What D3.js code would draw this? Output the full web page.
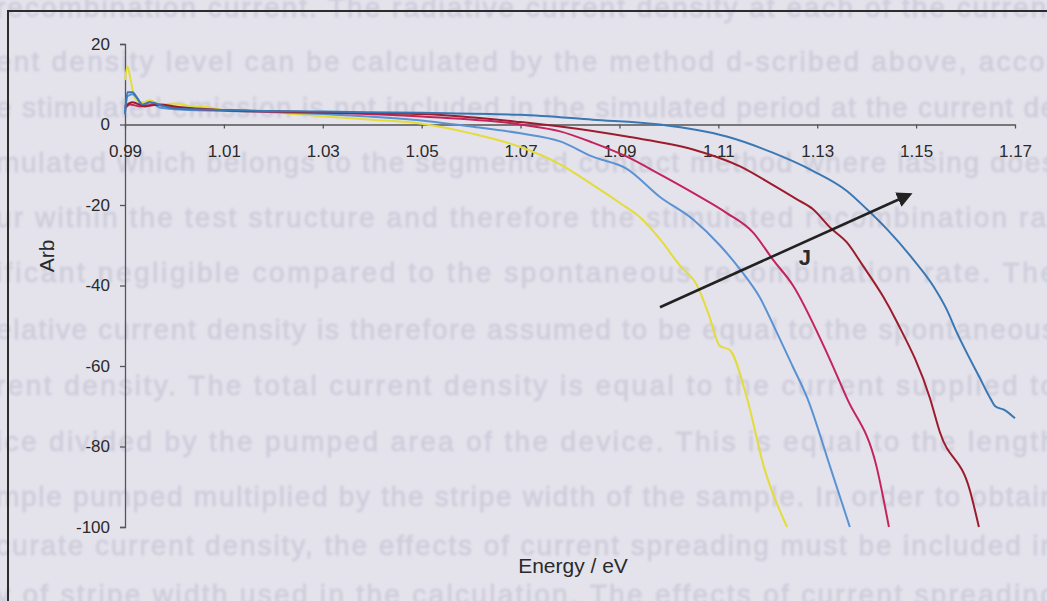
<!DOCTYPE html>
<html>
<head>
<meta charset="utf-8">
<script src="https://cdn.jsdelivr.net/npm/d3@7/dist/d3.min.js"></script>
<style>
  html, body { margin: 0; padding: 0; background: #e4e3ec; }
  svg { display: block; }
</style>
</head>
<body>
<svg id="chart" width="1047" height="601"></svg>
<script>
// Tick values for both axes
const energyTicks = [0.99, 1.01, 1.03, 1.05, 1.07, 1.09, 1.11, 1.13, 1.15, 1.17];
const arbTicks = [20, 0, -20, -40, -60, -80, -100];

// Each curve: photon energy (eV) and the signal (arb. units)
const yellowE = [0.9900, 0.9905, 0.9910, 0.9920, 0.9935, 0.9950, 0.9970, 1.0000, 1.0030, 1.0060, 1.0100, 1.0200, 1.0300, 1.0400, 1.0500, 1.0600, 1.0700, 1.0780, 1.0846, 1.0901, 1.0941, 1.0982, 1.1022, 1.1057, 1.1080, 1.1103, 1.1123, 1.1158, 1.1192, 1.1239];
const yellowV = [11, 14.5, 12, 6.5, 5.5, 6, 5, 5.2, 4.6, 4.4, 3.6, 3.0, 2.0, 1.2, 0.2, -2.2, -5.6, -9.9, -15, -19.5, -23, -28.5, -35, -40, -47, -55, -56, -68, -85, -100];

const lightBlueE = [0.9900, 0.9905, 0.9915, 0.9925, 0.9935, 0.9950, 0.9970, 1.0000, 1.0100, 1.0300, 1.0500, 1.0600, 1.0700, 1.0780, 1.0846, 1.0915, 1.0982, 1.1049, 1.1103, 1.1144, 1.1184, 1.1218, 1.1250, 1.1280, 1.1326, 1.1366];
const lightBlueV = [3, 7, 7.5, 6.5, 4.5, 5.5, 4.2, 3.8, 3.4, 2.6, 1, -0.5, -2.2, -4.2, -8, -11, -18, -23.6, -30, -36, -43, -51.6, -60, -68, -85, -100];

const magentaE = [0.9900, 0.9910, 0.9930, 0.9960, 1.0000, 1.0100, 1.0300, 1.0500, 1.0700, 1.0780, 1.0846, 1.0915, 1.0982, 1.1049, 1.1117, 1.1170, 1.1210, 1.1251, 1.1313, 1.1360, 1.1420, 1.1445];
const magentaV = [4, 5, 4.5, 5, 4.2, 3.5, 3.0, 2, 0, -1.7, -4.5, -8, -12.4, -17, -22, -26.8, -33.5, -40, -55, -68, -85, -100];

const darkRedE = [0.9900, 0.9915, 0.9940, 0.9970, 1.0000, 1.0100, 1.0300, 1.0500, 1.0700, 1.0780, 1.0915, 1.1049, 1.1144, 1.1210, 1.1259, 1.1291, 1.1326, 1.1360, 1.1392, 1.1433, 1.1461, 1.1528, 1.1548, 1.1609, 1.1627];
const darkRedV = [4.5, 5.5, 4.5, 5, 4.5, 3.6, 3.0, 2.6, 0.6, -0.5, -3, -6.2, -10.4, -15, -18.6, -21, -25.6, -29.3, -35, -42.7, -49, -68, -76.4, -91, -100];

const steelBlueE = [0.9900, 0.9905, 0.9915, 0.9925, 0.9935, 0.9950, 0.9980, 1.0000, 1.0100, 1.0300, 1.0500, 1.0700, 1.0846, 1.0982, 1.1117, 1.1210, 1.1291, 1.1360, 1.1400, 1.1441, 1.1494, 1.1534, 1.1562, 1.1582, 1.1629, 1.1650, 1.1660, 1.1680, 1.1700];
const steelBlueV = [2.5, 8, 8, 6.5, 5, 5.5, 4.5, 4, 3.6, 3.2, 2.9, 2.4, 1.2, 0, -3, -7, -11.5, -16.5, -21, -26, -33.5, -40, -46, -51.6, -63, -68, -70, -71, -73];

// Arrow showing increasing current density J (energy, value at tail and head)
const arrowFrom = [1.0982, -45.4];
const arrowTo = [1.1487, -17.4];
const arrowLabelAt = [1.1275, -33];

// Page text lying behind the chart
const pageLines = [
  "recombination current. The radiative current density at each of the current",
  "ent density  level can be calculated by the method d-scribed above, accor",
  "e stimulated emission is not included in the simulated period at the current de",
  "mulated which belongs to the segmented contact method where lasing does",
  "ur within the test structure and therefore the stimulated recombination rat",
  "ificant negligible  compared  to  the  spontaneous  recombination  rate.  The",
  "elative current density is therefore assumed to be equal to the spontaneous",
  "rent density. The total current density is equal to the current supplied to",
  "ice divided by the pumped area of the device. This is equal to the length",
  "mple pumped multiplied by the stripe width of the sample. In order to obtain",
  "curate current density, the effects of current spreading must be included in",
  "y of stripe width used in the calculation. The effects of current spreading"
];

const series = [
  { e: yellowE, v: yellowV, color: "#e3dc3a" },
  { e: lightBlueE, v: lightBlueV, color: "#5a92d4" },
  { e: magentaE, v: magentaV, color: "#c4245c" },
  { e: darkRedE, v: darkRedV, color: "#9c1c2c" },
  { e: steelBlueE, v: steelBlueV, color: "#3a78b4" }
];

const svg = d3.select("#chart");
const defs = svg.append("defs");
defs.append("filter").attr("id", "soft")
  .append("feGaussianBlur").attr("stdDeviation", 1.3);
defs.append("marker")
  .attr("id", "head")
  .attr("viewBox", "0 0 10 10")
  .attr("refX", 8).attr("refY", 5)
  .attr("markerWidth", 6).attr("markerHeight", 6)
  .attr("orient", "auto")
  .append("path").attr("d", "M0,0 L10,5 L0,10 z").attr("fill", "#222");

// Faint page text
const page = svg.append("g").attr("filter", "url(#soft)")
  .attr("font-family", "Liberation Sans, Arial, sans-serif")
  .attr("font-size", 28).attr("fill", "#cfcedb")
  .attr("stroke", "#cfcedb").attr("stroke-width", 0.8);
const rowY = [17, 71, 117, 172, 227, 282, 339, 395, 451, 506, 555, 604];
page.selectAll("text").data(pageLines).join("text")
  .attr("x", -4)
  .attr("y", (d, i) => rowY[i])
  .attr("textLength", 1060)
  .attr("lengthAdjust", "spacing")
  .text(d => d);

// Chart frame
svg.append("path")
  .attr("d", "M8,601 L8,11 L1047,11")
  .attr("fill", "none").attr("stroke", "#2c2c2c").attr("stroke-width", 2);

const x = d3.scaleLinear().domain([0.99, 1.17]).range([125, 1015]);
const y = d3.scaleLinear().domain([20, -100]).range([44, 527]);

const font = "Liberation Sans, Arial, sans-serif";

// Y axis
const yAxis = svg.append("g").attr("transform", `translate(${x(0.99)},0)`)
  .call(d3.axisLeft(y).tickValues(arbTicks).tickFormat(d => String(d))
    .tickSize(5).tickSizeOuter(5).tickPadding(10));
yAxis.select(".domain").attr("stroke", "#555").attr("stroke-width", 1.3);
yAxis.selectAll(".tick line").attr("stroke", "#555").attr("stroke-width", 1.3);
yAxis.selectAll("text").attr("font-family", font).attr("font-size", 17).attr("fill", "#2a2a2a");

// X axis sitting on zero
const xAxis = svg.append("g").attr("transform", `translate(0,${y(0)})`)
  .call(d3.axisBottom(x).tickValues(energyTicks).tickFormat(d => d.toFixed(2))
    .tickSize(4).tickSizeOuter(0).tickPadding(16));
xAxis.select(".domain").attr("stroke", "#555").attr("stroke-width", 1.5);
xAxis.selectAll(".tick line").attr("stroke", "#555").attr("stroke-width", 1.3);
xAxis.selectAll("text").attr("font-family", font).attr("font-size", 17).attr("fill", "#2a2a2a");

// Curves
const line = d3.line().x(d => x(d[0])).y(d => y(d[1])).curve(d3.curveMonotoneX);
svg.append("g").selectAll("path").data(series).join("path")
  .attr("d", s => line(s.e.map((e, i) => [e, s.v[i]])))
  .attr("fill", "none")
  .attr("stroke", s => s.color)
  .attr("stroke-width", 2)
  .attr("stroke-linejoin", "round");

// Arrow and its label
svg.append("line")
  .attr("x1", x(arrowFrom[0])).attr("y1", y(arrowFrom[1]))
  .attr("x2", x(arrowTo[0])).attr("y2", y(arrowTo[1]))
  .attr("stroke", "#222").attr("stroke-width", 2.6)
  .attr("marker-end", "url(#head)");
svg.append("text")
  .attr("x", x(arrowLabelAt[0])).attr("y", y(arrowLabelAt[1]) + 8)
  .attr("text-anchor", "middle")
  .attr("font-family", font).attr("font-size", 22).attr("font-weight", "bold")
  .attr("fill", "#2a2a2a").text("J");

// Axis titles
svg.append("text")
  .attr("transform", `translate(54,256) rotate(-90)`)
  .attr("text-anchor", "middle")
  .attr("font-family", font).attr("font-size", 21).attr("fill", "#2a2a2a")
  .text("Arb");
svg.append("text")
  .attr("x", 573).attr("y", 573)
  .attr("text-anchor", "middle")
  .attr("font-family", font).attr("font-size", 21).attr("fill", "#2a2a2a")
  .text("Energy / eV");
</script>
</body>
</html>
